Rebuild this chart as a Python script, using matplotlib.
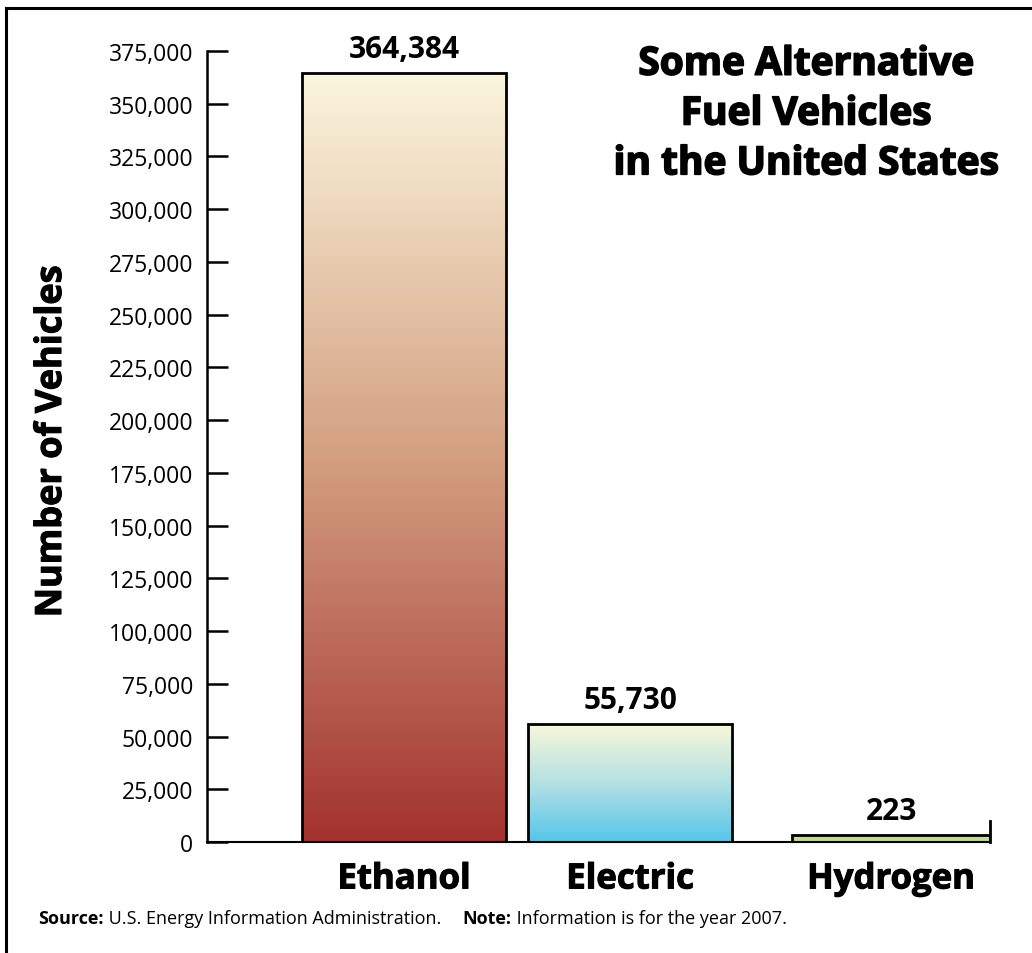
import numpy as np
import matplotlib
matplotlib.use("Agg")
from matplotlib import pyplot as plt
from matplotlib import font_manager
from matplotlib import patheffects as pe
from matplotlib.colors import LinearSegmentedColormap
from matplotlib.lines import Line2D

# data
categories = ["Ethanol", "Electric", "Hydrogen"]
vehicles = [364384, 55730, 223]
value_labels = ["364,384", "55,730", "223"]
y_ticks = np.arange(0, 375001, 25000)

# layout
x_pos = [0.0, 1.0, 2.155]
bar_widths = [0.9, 0.9, 0.876]
MIN_VISIBLE = 3200  # hydrogen bar is drawn as a thin sliver in the original

installed = {f.name for f in font_manager.fontManager.ttflist}
MAIN = "Open Sans" if "Open Sans" in installed else "DejaVu Sans"
NARROW = "Liberation Sans Narrow" if "Liberation Sans Narrow" in installed else MAIN
heavy = [pe.withStroke(linewidth=1.2, foreground="black")]

fig = plt.figure(figsize=(10.32, 9.54), dpi=100)
ax = fig.add_axes([207 / 1032, 111 / 954, (990 - 207) / 1032, (843 - 52) / 954])

grads = [
    LinearSegmentedColormap.from_list("eth", ["#a3322f", "#d39f80", "#fbf6de"]),
    LinearSegmentedColormap.from_list("ele", ["#55c6ea", "#b3e1e2", "#f8f7da"]),
]
grad = np.linspace(0, 1, 256).reshape(-1, 1)

for i, (x, v, w) in enumerate(zip(x_pos, vehicles, bar_widths)):
    h = max(v, MIN_VISIBLE)
    if i < 2:
        ax.imshow(grad, cmap=grads[i], origin="lower", aspect="auto",
                  extent=[x - w / 2, x + w / 2, 0, v], zorder=1)
        ax.bar(x, v, w, facecolor="none", edgecolor="black", lw=2, zorder=2)
    else:
        ax.bar(x, h, w, facecolor="#c6db8a", edgecolor="black", lw=2, zorder=2)
    ax.text(x, h + 4500, value_labels[i], ha="center", va="bottom",
            fontsize=21.5, fontweight="bold", family=MAIN)

ax.set_xlim(-0.872, 2.593)
ax.set_ylim(0, 375000)
ax.axvline(2.593, ymin=0, ymax=0.027, color="black", lw=2, clip_on=False)

ax.set_yticks(y_ticks)
ax.set_yticklabels([f"{t:,}" for t in y_ticks], family=MAIN, fontsize=16.5)
ax.tick_params(axis="y", direction="in", length=15, width=1.8, pad=10)
ax.set_xticks(x_pos)
ax.set_xticklabels(categories, family=MAIN, fontsize=25, fontweight="bold")
for lab in ax.get_xticklabels():
    lab.set_path_effects([pe.withStroke(linewidth=0.8, foreground="black")])
ax.tick_params(axis="x", length=0, pad=14)

for s in ["top", "right"]:
    ax.spines[s].set_visible(False)
ax.spines["left"].set_linewidth(1.8)
ax.spines["bottom"].set_linewidth(1.5)

fig.text(52 / 1032, 1 - 442 / 954, "Number of Vehicles", rotation=90,
         ha="center", va="center", fontsize=26, fontweight="bold", family=MAIN,
         path_effects=[pe.withStroke(linewidth=0.8, foreground="black")])

fig.text(806 / 1032, 1 - 115 / 954, "Some Alternative\nFuel Vehicles\nin the United States",
         ha="center", va="center", fontsize=28, fontweight="bold", family=MAIN,
         linespacing=1.36, path_effects=heavy)

# frame (only top and left edges fall inside the picture)
fig.add_artist(Line2D([6 / 1032, 1], [1 - 9 / 954, 1 - 9 / 954], color="black", lw=2.2))
fig.add_artist(Line2D([6 / 1032, 6 / 1032], [0, 1 - 9 / 954], color="black", lw=2.2))

# footnote, pieces chained left to right
parts = [("Source:", "bold", 0), (" U.S. Energy Information Administration.", "normal", 0),
         ("Note:", "bold", 22), (" Information is for the year 2007.", "normal", 0)]
fig.canvas.draw()
renderer = fig.canvas.get_renderer()
xpix = 38
for txt, wt, gap in parts:
    xpix += gap
    t = fig.text(xpix / 1032, 1 - 919 / 954, txt, ha="left", va="center",
                 fontsize=13, fontweight=wt, family=NARROW)
    xpix = t.get_window_extent(renderer).x1

fig.savefig("out.png", dpi=100)
